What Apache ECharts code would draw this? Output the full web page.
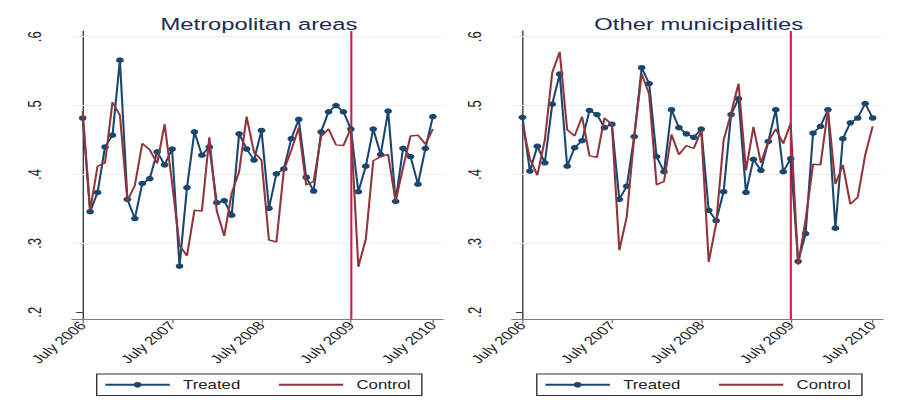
<!DOCTYPE html>
<html>
<head>
<meta charset="utf-8">
<script src="https://cdn.jsdelivr.net/npm/echarts@6/dist/echarts.min.js"></script>
<style>
  html, body { margin: 0; padding: 0; background: #fff; overflow: hidden; }
  /* drawn at a narrower width, then widened to the page width */
  #chart { width: 648px; height: 415px; transform: scaleX(1.399691); transform-origin: 0 0; }
</style>
</head>
<body>
<div id="chart"></div>
<script>
// Monthly shares, July 2006 .. June 2010 (48 months)
const metroTreated = [
  0.482, 0.346, 0.374, 0.440, 0.457, 0.566, 0.364, 0.336, 0.387, 0.394, 0.433, 0.414,
  0.437, 0.267, 0.381, 0.462, 0.428, 0.440, 0.359, 0.362, 0.341, 0.459, 0.437, 0.421,
  0.464, 0.351, 0.401, 0.408, 0.452, 0.480, 0.396, 0.376, 0.462, 0.491, 0.500, 0.491,
  0.466, 0.375, 0.412, 0.466, 0.429, 0.492, 0.361, 0.438, 0.426, 0.386, 0.438, 0.484
];
const metroControl = [
  0.492, 0.348, 0.412, 0.417, 0.505, 0.486, 0.362, 0.384, 0.445, 0.436, 0.416, 0.473,
  0.388, 0.297, 0.282, 0.348, 0.347, 0.454, 0.347, 0.311, 0.373, 0.404, 0.484, 0.432,
  0.421, 0.305, 0.302, 0.406, 0.435, 0.468, 0.385, 0.390, 0.455, 0.466, 0.443, 0.442,
  0.467, 0.266, 0.306, 0.420, 0.426, 0.429, 0.361, 0.410, 0.456, 0.457, 0.444, 0.466
];
const otherTreated = [
  0.483, 0.405, 0.441, 0.417, 0.502, 0.546, 0.412, 0.439, 0.449, 0.493, 0.487, 0.468,
  0.473, 0.364, 0.383, 0.455, 0.555, 0.532, 0.426, 0.404, 0.494, 0.468, 0.459, 0.454,
  0.466, 0.348, 0.333, 0.375, 0.487, 0.510, 0.374, 0.422, 0.406, 0.448, 0.494, 0.404,
  0.423, 0.274, 0.314, 0.460, 0.470, 0.494, 0.322, 0.452, 0.475, 0.482, 0.503, 0.482
];
const otherControl = [
  0.472, 0.423, 0.399, 0.450, 0.548, 0.578, 0.465, 0.456, 0.484, 0.427, 0.425, 0.482,
  0.473, 0.290, 0.339, 0.455, 0.546, 0.517, 0.385, 0.390, 0.458, 0.429, 0.442, 0.438,
  0.464, 0.273, 0.329, 0.450, 0.489, 0.532, 0.406, 0.469, 0.417, 0.448, 0.466, 0.445,
  0.474, 0.269, 0.334, 0.415, 0.414, 0.494, 0.386, 0.414, 0.357, 0.367, 0.428, 0.470
];

const panelTitles = ['Metropolitan areas', 'Other municipalities'];
const seriesNames = ['Treated', 'Control'];

// x ticks: month index -> label
const xTickPos = [0, 12, 24, 36, 47];
const xTickLabels = ['July 2006', 'July 2007', 'July 2008', 'July 2009', 'July 2010'];
// y ticks
const yTicks = [0.2, 0.3, 0.4, 0.5, 0.6];
const yGrid = [0.3, 0.4, 0.5, 0.6];
// reform month (July 2009)
const reformMonth = 36;

const NAVY = '#1a476f';
const MAROON = '#90353b';
const FONT = 'Liberation Sans, Arial, sans-serif';

const toPairs = arr => arr.map((v, i) => [i, v]);

const panelLeft = [51.4, 365.6];
const panelWidth = 265.2;
const gridTop = 31;
const gridHeight = 288.3;

const grids = [], xAxes = [], yAxes = [], series = [], titles = [], legends = [];
const panels = [[metroTreated, metroControl], [otherTreated, otherControl]];

panels.forEach((p, k) => {
  grids.push({ left: panelLeft[k], top: gridTop, width: panelWidth, height: gridHeight });
  xAxes.push({
    type: 'value', gridIndex: k, min: -1.44, max: 48.38,
    axisLine: { show: true, onZero: false, lineStyle: { color: '#7d7d7d', width: 1 } },
    axisTick: { show: true, customValues: xTickPos, length: 4, lineStyle: { color: '#7d7d7d' } },
    axisLabel: {
      customValues: xTickPos, rotate: 48, margin: 4,
      fontFamily: FONT, fontSize: 12, color: '#222',
      formatter: v => xTickLabels[xTickPos.indexOf(Math.round(v))]
    },
    splitLine: { show: false }
  });
  yAxes.push({
    type: 'value', gridIndex: k, min: 0.1898, max: 0.6083,
    axisLine: { show: true, lineStyle: { color: '#3c3c3c', width: 1 } },
    axisTick: { show: true, customValues: yTicks, length: 4.6, lineStyle: { color: '#3c3c3c' } },
    axisLabel: {
      customValues: yTicks, rotate: 90, margin: 20,
      fontFamily: FONT, fontSize: 13, color: '#222',
      formatter: v => v.toFixed(1).replace(/^0/, '')
    },
    splitLine: { show: false }
  });
  series.push({
    name: seriesNames[0], type: 'line', xAxisIndex: k, yAxisIndex: k,
    data: toPairs(p[0]), z: 2,
    symbol: 'circle', symbolSize: 5.5, showAllSymbol: true,
    itemStyle: { color: NAVY },
    lineStyle: { color: NAVY, width: 1.5 },
    emphasis: { disabled: true }, animation: false,
    markLine: {
      silent: true, symbol: 'none', z: 1, animation: false,
      label: { show: false },
      lineStyle: { color: '#e8f0f2', width: 1, type: 'solid' },
      data: yGrid.map(v => ({ yAxis: v }))
    }
  });
  series.push({
    name: seriesNames[1], type: 'line', xAxisIndex: k, yAxisIndex: k,
    data: toPairs(p[1]), z: 3,
    symbol: 'none',
    itemStyle: { color: MAROON },
    lineStyle: { color: MAROON, width: 1.5 },
    emphasis: { disabled: true }, animation: false,
    markLine: {
      silent: true, symbol: 'none', z: 1, animation: false,
      label: { show: false },
      lineStyle: { color: '#cf1d45', width: 1.5, type: 'solid' },
      data: [{ xAxis: reformMonth }]
    }
  });
  titles.push({
    text: panelTitles[k],
    left: panelLeft[k] + panelWidth / 2 - 4, top: 10, textAlign: 'center',
    textStyle: { fontFamily: FONT, fontSize: 17, fontWeight: 'normal', color: '#1c2b4f' }
  });
  legends.push({
    // the control line has no markers, so its key shows the line only
    data: [{ name: seriesNames[0] }, { name: seriesNames[1], itemStyle: { opacity: 0 } }],
    left: 69.1 + k * 314.4, top: 374,
    orient: 'horizontal',
    padding: [4.8, 8, 4.8, 5.2],
    borderColor: '#333', borderWidth: 1,
    itemWidth: 46, itemHeight: 7, itemGap: 26.5,
    selectedMode: false,
    textStyle: { fontFamily: FONT, fontSize: 12, color: '#222', padding: [0, 0, 0, 4.5] }
  });
});

const chart = echarts.init(document.getElementById('chart'), null, { renderer: 'svg' });
chart.setOption({
  backgroundColor: '#fff',
  animation: false,
  title: titles,
  legend: legends,
  grid: grids,
  xAxis: xAxes,
  yAxis: yAxes,
  series: series
});
</script>
</body>
</html>
